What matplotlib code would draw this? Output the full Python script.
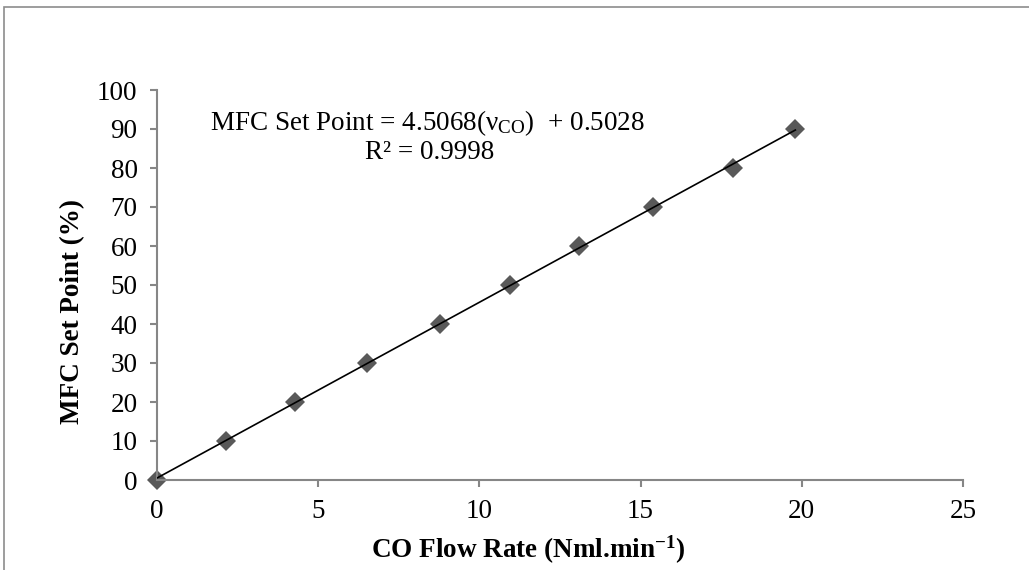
import matplotlib
matplotlib.use("Agg")
import matplotlib.pyplot as plt
from matplotlib.patches import Rectangle
import numpy as np

# Calibration data: CO flow rate vs. MFC set point
co_flow = [0.0, 2.14, 4.28, 6.52, 8.78, 10.95, 13.1, 15.4, 17.87, 19.8]
set_point = [0, 10, 20, 30, 40, 50, 60, 70, 80, 90]

# Linear fit reported for the calibration
slope = 4.5068
intercept = 0.5028
r_squared = 0.9998

x_ticks = [0, 5, 10, 15, 20, 25]
y_ticks = [0, 10, 20, 30, 40, 50, 60, 70, 80, 90, 100]

plt.rcParams["font.family"] = ["Liberation Serif", "DejaVu Serif"]
plt.rcParams["mathtext.fontset"] = "custom"
plt.rcParams["mathtext.rm"] = "Liberation Serif"
plt.rcParams["mathtext.it"] = "Liberation Serif:italic"
plt.rcParams["mathtext.bf"] = "Liberation Serif:bold"

W, H = 1029, 570
FS = 19.5
fig = plt.figure(figsize=(W / 100, H / 100), dpi=100)
fig.patch.set_facecolor("white")

# outer chart-area frame
fig.patches.append(Rectangle((4 / W, -0.1), 1.2, 1 - 6.5 / H + 0.1,
                             transform=fig.transFigure, fill=False,
                             edgecolor="#8c8c8c", linewidth=1.2))

ax_l, ax_r, ax_b, ax_t = 157, 963, 480, 90
ax = fig.add_axes([ax_l / W, 1 - ax_b / H, (ax_r - ax_l) / W, (ax_b - ax_t) / H])

axis_grey = "#868686"
for side in ("top", "right"):
    ax.spines[side].set_visible(False)
for side in ("left", "bottom"):
    ax.spines[side].set_color(axis_grey)
    ax.spines[side].set_linewidth(1.5)

ax.set_xlim(0, 25)
ax.set_ylim(0, 100)
ax.set_xticks(x_ticks)
ax.set_yticks(y_ticks)
ax.tick_params(axis="both", direction="out", length=5, width=1.5,
               color=axis_grey, labelsize=FS, labelcolor="black", pad=9)

# trendline
xs = np.array([0.0, max(co_flow)])
ax.plot(xs, slope * xs + intercept, color="black", linewidth=1.2, zorder=3)

# data points
ax.plot(co_flow, set_point, linestyle="none", marker="D", markersize=10.5,
        color="#595959", markeredgewidth=0, zorder=2, clip_on=False)

ax.set_xlabel(r"CO Flow Rate (Nml.min$^{\mathbf{-1}}$)", fontsize=FS,
              fontweight="bold", va="center", ha="center")
ax.xaxis.set_label_coords((528 - ax_l) / (ax_r - ax_l), (ax_b - 550) / (ax_b - ax_t))
ax.set_ylabel("MFC Set Point (%)", fontsize=FS, fontweight="bold",
              va="center", ha="center")
ax.yaxis.set_label_coords((73 - ax_l) / (ax_r - ax_l), (ax_b - 312) / (ax_b - ax_t))

fig.text(428 / W, 1 - 130 / H,
         r"MFC Set Point = %.4f($\mathrm{\nu}_{\mathrm{CO}}$)  + %.4f" % (slope, intercept),
         ha="center", va="baseline", fontsize=FS)
fig.text(430 / W, 1 - 159 / H, "R² = %.4f" % r_squared,
         ha="center", va="baseline", fontsize=FS)

fig.savefig("out.png", dpi=100, facecolor="white")
